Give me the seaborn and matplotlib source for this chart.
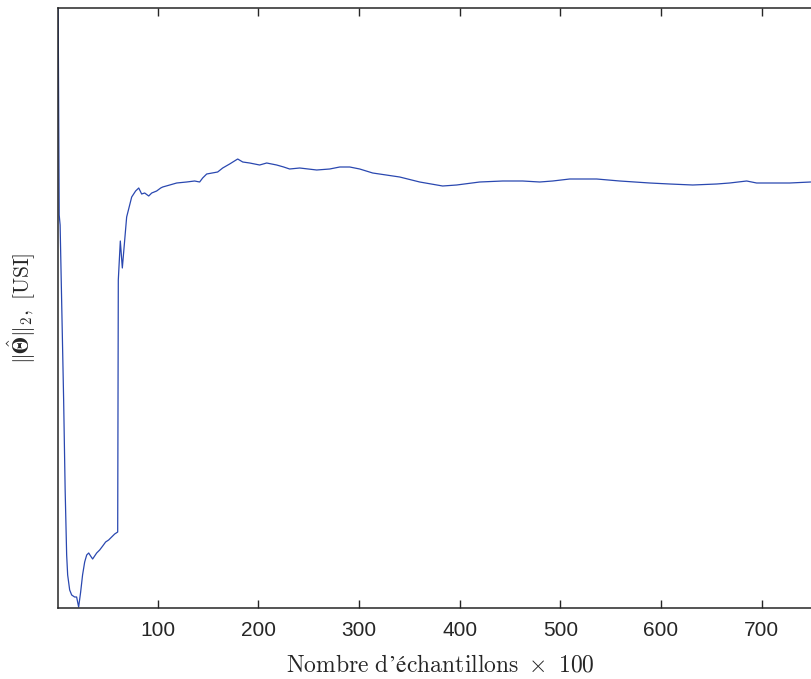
import numpy as np
import seaborn as sns
import matplotlib.pyplot as plt

# norme de theta estimee en fonction du nombre d'echantillons (x100)
samples = [1, 2.2, 3.1, 4.6, 6.6, 8.1, 9.6, 10.6, 12.6, 14.6, 17.5, 19.5, 21.5,
           23.5, 25.4, 27.5, 29.5, 31.5, 33.4, 35.4, 37.4, 39.4, 42.4, 45.4,
           48.3, 51.3, 54.3, 57.3, 60.3, 60.9, 62.9, 64.9, 69.2, 74.2, 78.1,
           81.2, 84.1, 87.1, 91.1, 94.1, 99.0, 103.0, 105.0, 112.0, 118.9,
           128.8, 136.7, 141.7, 144.7, 148.7, 159.6, 164.6, 171.5, 179.5,
           184.5, 191.4, 201.3, 208.3, 218.2, 225.2, 231.1, 241.1, 258.0,
           270.9, 280.9, 290.8, 300.7, 313.6, 340.4, 360.3, 383.1, 397.0,
           419.9, 442.8, 462.6, 479.5, 492.4, 509.3, 519.2, 524.2, 536.1,
           559.0, 588.8, 608.6, 631.5, 655.3, 668.2, 685.1, 695.0, 707.9,
           727.8, 748.7]
theta_norm = [6.3, 3.93, 3.83, 3.08, 2.08, 1.18, 0.53, 0.33, 0.18, 0.13, 0.11,
              0.11, 0.01, 0.16, 0.33, 0.46, 0.53, 0.55, 0.52, 0.49, 0.52, 0.55,
              0.58, 0.62, 0.66, 0.68, 0.71, 0.74, 0.76, 3.28, 3.67, 3.40, 3.91,
              4.11, 4.17, 4.20, 4.14, 4.15, 4.12, 4.15, 4.17, 4.20, 4.21, 4.23,
              4.25, 4.26, 4.27, 4.26, 4.30, 4.34, 4.36, 4.40, 4.44, 4.49, 4.46,
              4.45, 4.43, 4.45, 4.43, 4.41, 4.39, 4.40, 4.38, 4.39, 4.41, 4.41,
              4.39, 4.35, 4.31, 4.26, 4.22, 4.23, 4.26, 4.27, 4.27, 4.26, 4.27,
              4.29, 4.29, 4.29, 4.29, 4.27, 4.25, 4.24, 4.23, 4.24, 4.25, 4.27,
              4.25, 4.25, 4.25, 4.26]
xticks = [100, 200, 300, 400, 500, 600, 700]

sns.set_style("ticks")
plt.rcParams['font.family'] = ['Liberation Sans', 'DejaVu Sans']
plt.rcParams['mathtext.fontset'] = 'cm'

fig = plt.figure(figsize=(8.11, 6.79), dpi=100)
ax = fig.add_axes([58 / 811, 71 / 679, 753 / 811, 600 / 679])

sns.lineplot(x=samples, y=theta_norm, ax=ax, color='#2a48b0', lw=0.9)

ax.set_xlim(1, 749)
ax.set_ylim(0, 6)
ax.set_xticks(xticks)
ax.set_xticklabels([str(t) for t in xticks])
ax.set_yticks([])
ax.tick_params(axis='x', direction='in', length=6, width=1, top=True,
               labelsize=15, pad=9, colors='#262626')

for s in ['left', 'bottom', 'top']:
    ax.spines[s].set_color('#262626')
    ax.spines[s].set_linewidth(1.1)
ax.spines['right'].set_visible(False)

ax.set_xlabel(r"$\mathrm{Nombre\ d’échantillons}\ \times\ 100$",
              fontsize=17, labelpad=9)
ax.xaxis.set_label_coords(0.508, -0.078)
ax.set_ylabel(r"$\|\hat{\mathbf{Θ}}\|_2,\ [\mathrm{USI}]$", fontsize=15.5)
ax.yaxis.set_label_coords(-0.027, 0.5)

fig.savefig('out.png', dpi=100)
